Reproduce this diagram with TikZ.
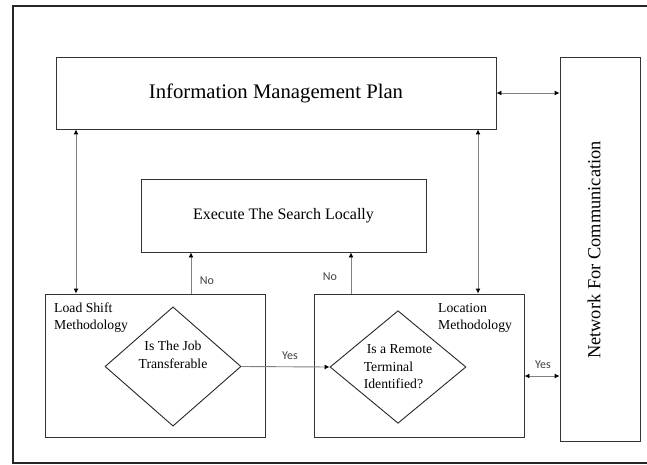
\documentclass[tikz,border=0pt]{standalone}
\usepackage{fontspec}
\setmainfont{Liberation Serif}
\newfontfamily\lblfont{Carlito}
\usetikzlibrary{
    arrows.meta,
    shapes.geometric,
    calc,
    positioning
}

\begin{document}
\begin{tikzpicture}[x=1pt, y=-1pt,
        box/.style={draw=black!80, line width=0.9pt, inner sep=0pt},
        decision/.style={diamond, draw=black!85, line width=0.9pt, inner sep=0pt, align=center,
            font=\fontsize{13.7}{17.5}\selectfont},
        conn/.style={draw=black!50, line width=0.9pt, -{Latex[length=5pt,width=5pt,black]}},
        biconn/.style={conn, {Latex[length=5pt,width=5pt,black]}-{Latex[length=5pt,width=5pt,black]}},
        lbl/.style={font=\lblfont\fontsize{12}{14}\selectfont, text=black!75, inner sep=0pt},
        ttl/.style={font=\fontsize{13.7}{17}\selectfont, align=left, inner sep=0pt, anchor=north west}]
    \useasboundingbox (0,0) rectangle (647,465);

    % outer frame (open on the right)
    \draw[line width=2pt, black!85] (647,6.5) -- (12.5,6.5) -- (12.5,463) -- (647,463);

    % boxes
    \node[box, minimum width=440pt, minimum height=72pt,
        font=\fontsize{20.7}{24}\selectfont] (imp) at (276,93) {Information Management Plan};
    \node[box, minimum width=80pt, minimum height=384pt] (net) at (600,249) {};
    \node[rotate=90, font=\fontsize{18.4}{22}\selectfont] (nettxt) at (594,250) {Network For Communication};
    \node[box, minimum width=285pt, minimum height=73pt,
        font=\fontsize{16}{19}\selectfont] (exec) at (283.5,215.5) {Execute The Search Locally};
    \node[box, minimum width=220pt, minimum height=143pt] (load) at (155,365.5) {};
    \node[box, minimum width=210pt, minimum height=143pt] (loc) at (419,365.5) {};

    \node[ttl] (loadtxt) at (54,303) {Load Shift\\Methodology};
    \node[ttl] (loctxt) at (438,303) {Location\\Methodology};

    % decisions
    \node[decision, minimum width=136pt, minimum height=113pt] (d1) at (173,366.5) {Is The Job\\Transferable\\[6pt]};
    \node[decision, minimum width=136pt, minimum height=112pt, align=left] (d2) at (398,367)
        {\hspace{3pt}Is a Remote\\Terminal\\Identified?};

    % helper coordinates for the vertical links
    \coordinate (xa) at (76,0);
    \coordinate (xb) at (478,0);
    \coordinate (xc) at (191,0);
    \coordinate (xd) at (351,0);
    \coordinate (ya) at (0,376);

    % connectors
    \draw[biconn] (imp.south -| xa) -- (load.north -| xa);
    \draw[biconn] (imp.south -| xb) -- (loc.north -| xb);
    \draw[biconn] (imp.east) -- (imp.east -| net.west);
    \draw[conn] (load.north -| xc) -- (exec.south -| xc);
    \draw[conn] (loc.north -| xd) -- (exec.south -| xd);
    \draw[conn] (d1.east) -- (d2.west);
    \draw[biconn] (loc.east |- ya) -- (net.west |- ya);

    % labels
    \node[lbl] (no1) at (207,281) {No};
    \node[lbl] (no2) at (330,277) {No};
    \node[lbl] (yes1) at (290,356) {Yes};
    \node[lbl] (yes2) at (543,365) {Yes};
\end{tikzpicture}
\end{document}
